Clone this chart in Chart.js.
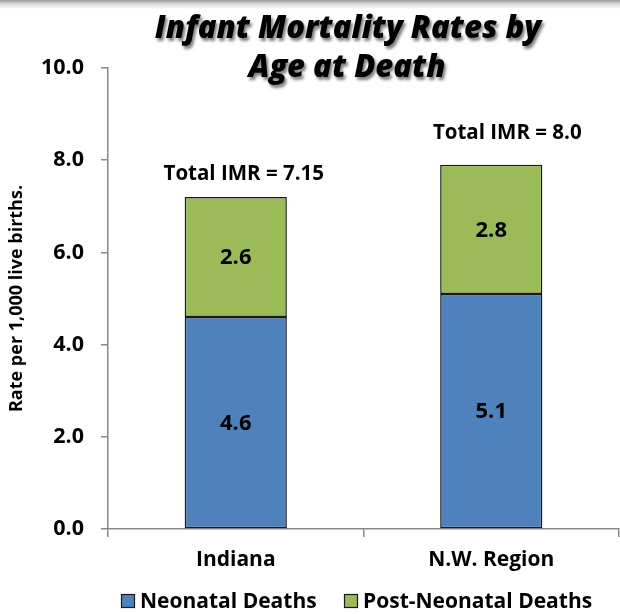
<!DOCTYPE html>
<html>
<head>
<meta charset="utf-8">
<script src="https://cdn.jsdelivr.net/npm/chart.js@4.4.1/dist/chart.umd.min.js"></script>
<style>
  html, body { margin: 0; padding: 0; }
  body { width: 620px; height: 614px; background: linear-gradient(to bottom, #9a9a9a 0px, #d8d8d8 4px, #ffffff 9px); }
  #wrap { position: relative; width: 620px; height: 614px; }
</style>
</head>
<body>
<div id="wrap"><canvas id="imrChart"></canvas></div>
<script>
// chart data
const categories = ['Indiana', 'N.W. Region'];
const neonatal = [4.6, 5.1];
const postNeonatal = [2.6, 2.8];
const totalLabels = ['Total IMR = 7.15', 'Total IMR = 8.0'];
const yTicks = [0, 2, 4, 6, 8, 10];
const titleLines = ['Infant Mortality Rates by', 'Age at Death'];

const FONT = '"Open Sans", Lato, sans-serif';

// draws title, value labels, totals and the legend
const extrasPlugin = {
  id: 'extras',
  afterDraw(chart) {
    const ctx = chart.ctx;
    ctx.save();

    // title with drop shadow
    ctx.font = 'italic 800 31px ' + FONT;
    ctx.textAlign = 'center';
    ctx.textBaseline = 'alphabetic';
    ctx.shadowColor = 'rgba(0,0,0,0.5)';
    ctx.shadowOffsetX = 2;
    ctx.shadowOffsetY = 3;
    ctx.shadowBlur = 3;
    ctx.fillStyle = '#000';
    ctx.fillText(titleLines[0], 348, 38);
    ctx.fillText(titleLines[1], 347, 77);
    ctx.shadowColor = 'transparent';

    // values inside the segments
    ctx.textBaseline = 'middle';
    ctx.font = 'bold 22px ' + FONT;
    chart.data.datasets.forEach((ds, di) => {
      const meta = chart.getDatasetMeta(di);
      meta.data.forEach((bar, i) => {
        const mid = (bar.y + bar.base) / 2;
        ctx.fillText(ds.data[i].toFixed(1), bar.x, mid + 1);
      });
    });

    // total labels above stacks
    ctx.font = 'bold 20.5px ' + FONT;
    const topMeta = chart.getDatasetMeta(1);
    const shiftX = [8, 16];
    const shiftY = [23, 32];
    topMeta.data.forEach((bar, i) => {
      ctx.fillText(totalLabels[i], bar.x + shiftX[i], bar.y - shiftY[i]);
    });

    // legend
    ctx.font = 'bold 21px ' + FONT;
    ctx.textAlign = 'left';
    const legendY = 601;
    const legendX = [121, 344];
    chart.data.datasets.forEach((ds, di) => {
      const x = legendX[di];
      ctx.fillStyle = ds.backgroundColor;
      ctx.fillRect(x, legendY - 7, 14, 14);
      ctx.strokeStyle = '#1a1a1a';
      ctx.lineWidth = 1.2;
      ctx.strokeRect(x + 0.5, legendY - 6.5, 13, 13);
      ctx.fillStyle = '#000';
      ctx.fillText(ds.label, x + 19, legendY + 1);
    });

    ctx.restore();
  }
};

new Chart(document.getElementById('imrChart'), {
  type: 'bar',
  data: {
    labels: categories,
    datasets: [
      {
        label: 'Neonatal Deaths',
        data: neonatal,
        backgroundColor: '#4F81BD',
        borderColor: '#1a1a1a',
        borderWidth: 1.5,
        borderSkipped: false,
        barPercentage: 0.4,
        categoryPercentage: 1
      },
      {
        label: 'Post-Neonatal Deaths',
        data: postNeonatal,
        backgroundColor: '#9BBB59',
        borderColor: '#1a1a1a',
        borderWidth: 1.5,
        borderSkipped: false,
        barPercentage: 0.4,
        categoryPercentage: 1
      }
    ]
  },
  options: {
    responsive: true,
    maintainAspectRatio: false,
    animation: false,
    layout: { padding: { top: 68, right: 1, left: 0, bottom: 0 } },
    plugins: {
      legend: { display: false },
      title: { display: false },
      tooltip: { enabled: false }
    },
    scales: {
      x: {
        stacked: true,
        grid: { offset: true, drawOnChartArea: false, color: '#888', tickLength: 8, lineWidth: 1.5 },
        border: { color: '#888', width: 1.5 },
        ticks: { color: '#000', font: { family: FONT, size: 21, weight: 'bold' }, padding: 10 },
        afterFit(scale) { scale.height = 85; }
      },
      y: {
        stacked: true,
        min: 0,
        max: 10,
        afterBuildTicks(scale) { scale.ticks = yTicks.map(v => ({ value: v })); },
        grid: { drawOnChartArea: false, color: '#888', tickLength: 7, lineWidth: 1.5 },
        border: { color: '#888', width: 1.5 },
        ticks: {
          color: '#000',
          font: { family: FONT, size: 21.5, weight: 'bold' },
          padding: 17,
          callback: v => v.toFixed(1)
        },
        title: {
          display: true,
          text: 'Rate per 1,000 live births.',
          color: '#000',
          font: { family: FONT, size: 18, weight: 'bold' },
          padding: { top: 6, bottom: 0 }
        },
        afterFit(scale) { scale.width = 108; }
      }
    }
  },
  plugins: [extrasPlugin]
});
</script>
</body>
</html>
